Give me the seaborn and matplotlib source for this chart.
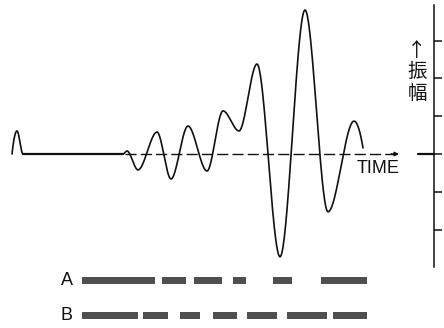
import numpy as np
import pandas as pd
import matplotlib
matplotlib.use("Agg")
import matplotlib.pyplot as plt
import seaborn as sns

# ---- data ----
# key points of the trace (time, amplitude in tick units)
wave_t = [12, 17, 23, 123, 127, 138, 157, 171, 188, 207, 223, 239, 257, 280, 305, 328, 354, 363]
wave_amp = [0, 0.61, 0, 0, 0.08, -0.42, 0.58, -0.66, 0.74, -0.45, 1.14, 0.61, 2.38, -2.72, 3.81, -1.53, 0.87, 0.16]
amp_ticks = [-2, -1, 0, 1, 2, 3]
time_axis = [125, 399]

rows = ["A", "B"]
a_start = [82, 162, 194, 233, 273, 321]
a_end = [155, 186, 222, 246, 292, 367]
b_start = [82, 143, 180, 213, 247, 287, 333]
b_end = [138, 168, 200, 237, 277, 327, 367]

sns.set_theme(style="white")
plt.rcParams["font.family"] = ["Liberation Sans", "DejaVu Sans"]


def smooth_trace(t, a, n=40):
    t = np.asarray(t, float)
    a = np.asarray(a, float)
    m = np.zeros_like(a)
    m[0] = 2 * (a[1] - a[0]) / (t[1] - t[0])
    m[-1] = 2 * (a[-1] - a[-2]) / (t[-1] - t[-2])
    xs, ys = [], []
    for i in range(len(t) - 1):
        h = t[i + 1] - t[i]
        s = np.linspace(0, 1, n, endpoint=(i == len(t) - 2))
        h00 = 2 * s**3 - 3 * s**2 + 1
        h10 = s**3 - 2 * s**2 + s
        h01 = -2 * s**3 + 3 * s**2
        h11 = s**3 - s**2
        xs.append(t[i] + s * h)
        ys.append(h00 * a[i] + h10 * h * m[i] + h01 * a[i + 1] + h11 * h * m[i + 1])
    return np.concatenate(xs), np.concatenate(ys)


fig = plt.figure(figsize=(4.44, 3.28), dpi=100)
fig.patch.set_facecolor("white")

# main trace axes: right spine is the amplitude axis
px = 37.8  # pixels per amplitude unit
ax = fig.add_axes([0, 61 / 328, 434 / 444, 262 / 328])
ax.set_xlim(0, 434)
ax.set_ylim((154 - 267) / px, (154 - 5) / px)
ax.set_facecolor("none")

x, y = smooth_trace(wave_t, wave_amp)
df = pd.DataFrame({"time": x, "amp": y})
sns.lineplot(data=df, x="time", y="amp", sort=False, estimator=None,
             color="#111111", linewidth=1.2, ax=ax, clip_on=False)
# heavier flat stretch of the trace
flat = (df["time"] >= wave_t[2]) & (df["time"] <= wave_t[3])
ax.plot(df["time"][flat], df["amp"][flat], color="#111111", lw=1.6)

# dashed time axis with arrow
ax.plot(time_axis, [0, 0], color="#111111", lw=1.0, dashes=(8, 3))
ax.annotate("", xy=(time_axis[1], 0), xytext=(time_axis[1] - 8, 0),
            arrowprops=dict(arrowstyle="-|>", color="#111111", lw=1.0,
                            mutation_scale=6, shrinkA=0, shrinkB=0))
ax.text(357, (154 - 168.5) / px, "TIME", fontsize=13, ha="left", va="center",
        color="#111111")

# amplitude axis
for s in ["left", "top", "bottom"]:
    ax.spines[s].set_visible(False)
ax.spines["right"].set_visible(True)
ax.spines["right"].set_color("#111111")
ax.spines["right"].set_linewidth(1.1)
ax.set_xticks([])
ax.yaxis.tick_right()
ax.set_yticks(amp_ticks)
ax.tick_params(axis="y", direction="out", length=6, width=1.1, color="#111111",
               labelright=False, right=True, left=False)
ax.plot([418, 434], [0, 0], color="#111111", lw=1.6, clip_on=False)
ax.text(417, (154 - 72) / px, "↑\n振\n幅", fontsize=14, ha="center", va="center",
        linespacing=1.05, color="#111111",
        family=["Noto Sans CJK JP", "DejaVu Sans"])
ax.set_xlabel("")
ax.set_ylabel("")

# A / B strips
bx = fig.add_axes([0, 0, 434 / 444, 60 / 328])
bx.set_xlim(0, 434)
bx.set_ylim(1.371, -0.343)
bx.axis("off")
for i, (st, en) in enumerate([(a_start, a_end), (b_start, b_end)]):
    segs = [(s0, e0 - s0) for s0, e0 in zip(st, en)]
    bx.broken_barh(segs, (i - 0.1, 0.2), facecolors="#4f4f4f", edgecolor="none")
    bx.text(66.5, i, rows[i], fontsize=13, ha="center", va="center", color="#111111")

fig.savefig("out.png", dpi=100, facecolor="white")
